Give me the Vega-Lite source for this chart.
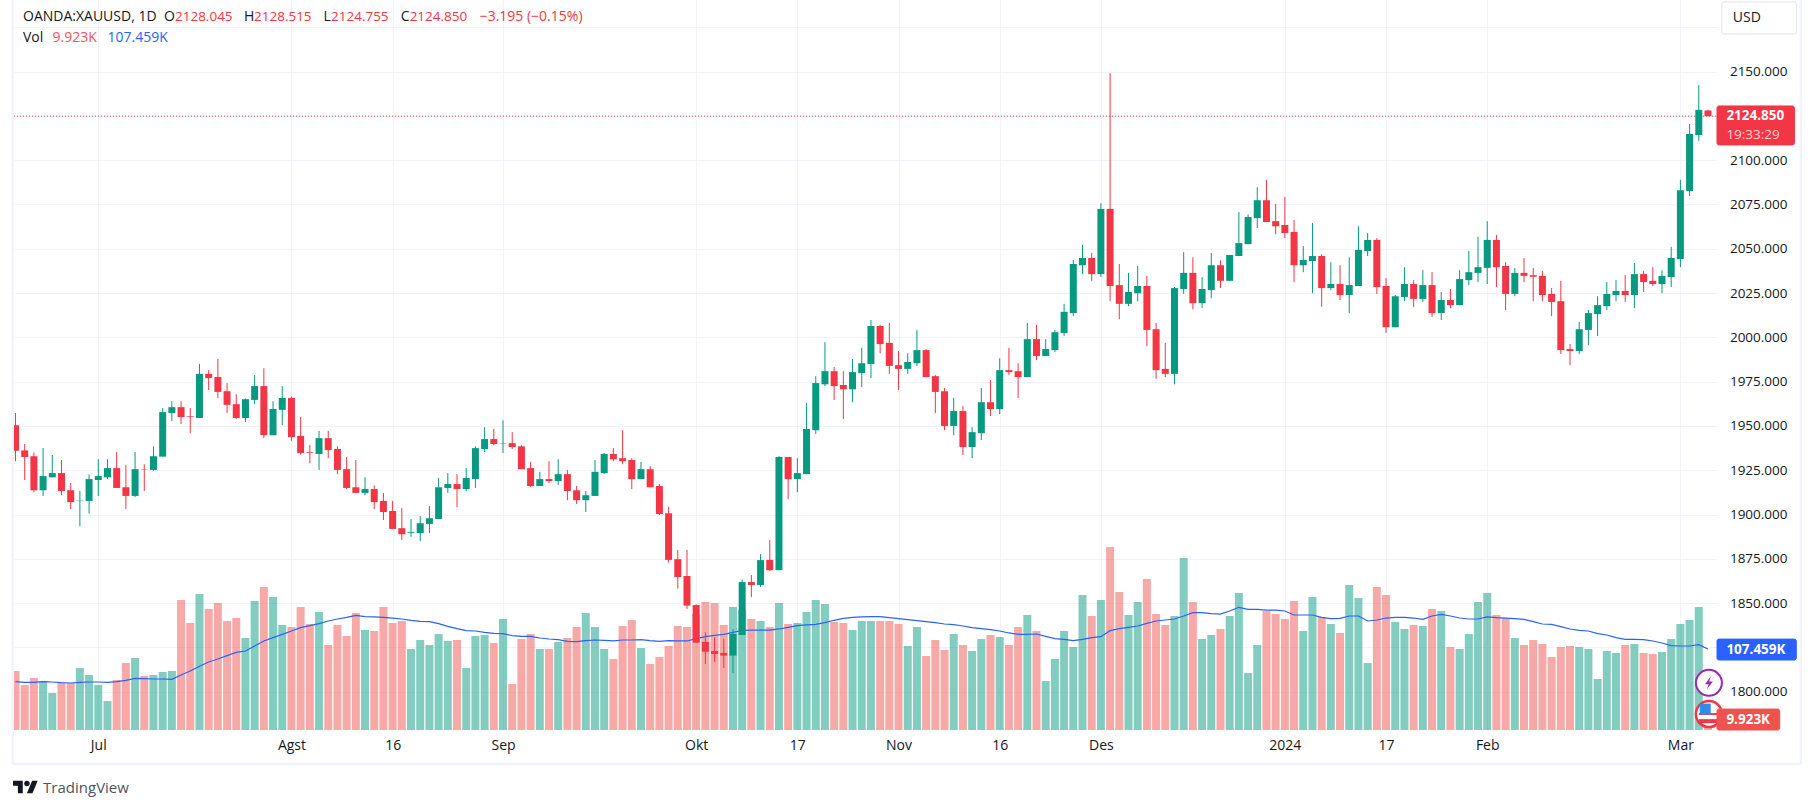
{"$schema":"https://vega.github.io/schema/vega-lite/v6.json","width":1703,"height":730,"autosize":{"type":"none"},"padding":{"left":14,"top":0,"right":98,"bottom":79},"background":"white","config":{"view":{"stroke":null},"text":{"font":"Open Sans"},"axis":{"labelFont":"Open Sans"}},
"data":{"values":[
{"bar":0,"open":1950.4,"high":1957.3,"low":1930.1,"close":1936,"vol":78.2,"ma":64.1},
{"bar":1,"open":1936.2,"high":1939.8,"low":1919.5,"close":1932.5,"vol":59.6,"ma":63.2},
{"bar":2,"open":1932.9,"high":1935.1,"low":1912.6,"close":1913.7,"vol":68.9,"ma":63.2},
{"bar":3,"open":1913.7,"high":1937.5,"low":1910.5,"close":1921.7,"vol":64.9,"ma":64.1},
{"bar":4,"open":1921,"high":1933.6,"low":1921,"close":1923.4,"vol":49,"ma":63.6},
{"bar":5,"open":1923.4,"high":1930.8,"low":1910.9,"close":1913.3,"vol":62.3,"ma":62.7},
{"bar":6,"open":1913.7,"high":1917.8,"low":1903.1,"close":1907,"vol":62.3,"ma":62.3},
{"bar":7,"open":1907.9,"high":1913.3,"low":1893.4,"close":1908.1,"vol":82.2,"ma":63.2},
{"bar":8,"open":1907.7,"high":1922.6,"low":1900.7,"close":1920,"vol":72.9,"ma":63.6},
{"bar":9,"open":1919.5,"high":1931.2,"low":1910.5,"close":1921.7,"vol":59.6,"ma":63.6},
{"bar":10,"open":1921,"high":1931.2,"low":1920,"close":1926.2,"vol":38.4,"ma":63.2},
{"bar":11,"open":1926.2,"high":1935.3,"low":1915,"close":1915,"vol":66.3,"ma":64.1},
{"bar":12,"open":1915.4,"high":1928,"low":1903.1,"close":1910.5,"vol":88.8,"ma":65.8},
{"bar":13,"open":1910.5,"high":1935.3,"low":1909.8,"close":1925.6,"vol":95.4,"ma":68.5},
{"bar":14,"open":1925.6,"high":1928.4,"low":1913.3,"close":1925.4,"vol":71.6,"ma":68},
{"bar":15,"open":1925.2,"high":1938.5,"low":1924.7,"close":1932.9,"vol":72.9,"ma":67.6},
{"bar":16,"open":1932.7,"high":1960.1,"low":1932.7,"close":1957.8,"vol":76.9,"ma":67.6},
{"bar":17,"open":1957.3,"high":1964,"low":1952.8,"close":1960.6,"vol":78.2,"ma":67.2},
{"bar":18,"open":1960.6,"high":1964,"low":1951.1,"close":1955,"vol":172.3,"ma":72.9},
{"bar":19,"open":1955.6,"high":1960.1,"low":1945.9,"close":1955.2,"vol":141.8,"ma":78.2},
{"bar":20,"open":1954.5,"high":1985,"low":1954.5,"close":1979.4,"vol":180.3,"ma":84.4},
{"bar":21,"open":1979.4,"high":1981.5,"low":1970.3,"close":1977,"vol":160.4,"ma":90.1},
{"bar":22,"open":1977.6,"high":1987.8,"low":1965.8,"close":1969.2,"vol":168.3,"ma":94.1},
{"bar":23,"open":1969.6,"high":1974.2,"low":1957.3,"close":1961.9,"vol":144.5,"ma":98.5},
{"bar":24,"open":1962.3,"high":1967.9,"low":1953.9,"close":1954.5,"vol":148.4,"ma":102.9},
{"bar":25,"open":1954.5,"high":1965.5,"low":1952.2,"close":1965.1,"vol":121.9,"ma":104.7},
{"bar":26,"open":1964.7,"high":1978.7,"low":1962.3,"close":1972.5,"vol":171,"ma":111.3},
{"bar":27,"open":1972.5,"high":1982.6,"low":1943.1,"close":1944.8,"vol":189.5,"ma":118},
{"bar":28,"open":1944.8,"high":1964,"low":1944.8,"close":1959.5,"vol":176.3,"ma":122.4},
{"bar":29,"open":1959.1,"high":1972.5,"low":1950.4,"close":1965.8,"vol":139.2,"ma":126.8},
{"bar":30,"open":1965.8,"high":1966.6,"low":1941.6,"close":1943.7,"vol":136.5,"ma":131.2},
{"bar":31,"open":1944.4,"high":1955,"low":1933.8,"close":1934.7,"vol":163,"ma":135.6},
{"bar":32,"open":1935.3,"high":1939.2,"low":1929,"close":1934.9,"vol":140.5,"ma":138.3},
{"bar":33,"open":1934.2,"high":1947.2,"low":1925.2,"close":1943.1,"vol":156.4,"ma":140.9},
{"bar":34,"open":1943.1,"high":1947.2,"low":1931.8,"close":1936.4,"vol":112.7,"ma":144.5},
{"bar":35,"open":1937,"high":1938.5,"low":1922.8,"close":1925.2,"vol":139.2,"ma":147.1},
{"bar":36,"open":1925.6,"high":1932.5,"low":1914.4,"close":1915,"vol":124.6,"ma":149.3},
{"bar":37,"open":1915.4,"high":1930.8,"low":1912.2,"close":1912.2,"vol":155.1,"ma":152},
{"bar":38,"open":1912.2,"high":1921,"low":1910.9,"close":1914.4,"vol":132.5,"ma":150.2},
{"bar":39,"open":1914.4,"high":1916.5,"low":1903.1,"close":1907,"vol":131.2,"ma":149.8},
{"bar":40,"open":1907.7,"high":1912.2,"low":1896.9,"close":1901.4,"vol":163,"ma":149.3},
{"bar":41,"open":1902,"high":1907.7,"low":1891.9,"close":1891.9,"vol":141.8,"ma":148.4},
{"bar":42,"open":1892.3,"high":1903.6,"low":1885.6,"close":1888.9,"vol":144.5,"ma":147.1},
{"bar":43,"open":1889.7,"high":1897.5,"low":1887.4,"close":1890.2,"vol":107.4,"ma":145.4},
{"bar":44,"open":1889.5,"high":1899.2,"low":1885,"close":1895.1,"vol":119.3,"ma":144},
{"bar":45,"open":1894.7,"high":1904.8,"low":1889.5,"close":1897.9,"vol":112.7,"ma":143.6},
{"bar":46,"open":1897.5,"high":1920.6,"low":1897.5,"close":1915.4,"vol":127.2,"ma":140.9},
{"bar":47,"open":1915,"high":1923.4,"low":1912.2,"close":1917.2,"vol":118,"ma":137.4},
{"bar":48,"open":1917.2,"high":1922.8,"low":1904.2,"close":1914.4,"vol":119.3,"ma":134.3},
{"bar":49,"open":1914.4,"high":1926.2,"low":1913.3,"close":1920.6,"vol":82.2,"ma":131.7},
{"bar":50,"open":1920,"high":1938.5,"low":1915,"close":1937.5,"vol":124.6,"ma":131.2},
{"bar":51,"open":1937,"high":1949.3,"low":1935.3,"close":1942.6,"vol":125.9,"ma":129.4},
{"bar":52,"open":1942.6,"high":1948.3,"low":1939.2,"close":1939.8,"vol":115.3,"ma":128.1},
{"bar":53,"open":1940.1,"high":1953.2,"low":1934.7,"close":1940.3,"vol":147.1,"ma":127.7},
{"bar":54,"open":1940.3,"high":1946.5,"low":1937,"close":1938.1,"vol":61,"ma":125},
{"bar":55,"open":1938.5,"high":1939.2,"low":1925.6,"close":1925.6,"vol":120.6,"ma":124.1},
{"bar":56,"open":1926.2,"high":1929.7,"low":1915.4,"close":1916.1,"vol":127.2,"ma":124.1},
{"bar":57,"open":1916.1,"high":1924.1,"low":1916.1,"close":1920,"vol":107.4,"ma":121.9},
{"bar":58,"open":1920,"high":1930.1,"low":1917.8,"close":1918.9,"vol":107.4,"ma":120.6},
{"bar":59,"open":1918.9,"high":1931.2,"low":1916.7,"close":1922.8,"vol":116.6,"ma":119.7},
{"bar":60,"open":1922.8,"high":1925.2,"low":1908.1,"close":1913.3,"vol":121.9,"ma":117.5},
{"bar":61,"open":1913.7,"high":1916.1,"low":1905.9,"close":1908.1,"vol":136.5,"ma":117.1},
{"bar":62,"open":1908.1,"high":1913.3,"low":1901.4,"close":1910.9,"vol":155.1,"ma":118.4},
{"bar":63,"open":1910.5,"high":1930.8,"low":1910.5,"close":1924.1,"vol":136.5,"ma":119.3},
{"bar":64,"open":1923.4,"high":1934.7,"low":1922.8,"close":1934.2,"vol":107.4,"ma":118.8},
{"bar":65,"open":1934.2,"high":1937.5,"low":1930.1,"close":1931.2,"vol":94.1,"ma":118},
{"bar":66,"open":1931.8,"high":1947.6,"low":1928.4,"close":1930.1,"vol":137.8,"ma":119.3},
{"bar":67,"open":1930.8,"high":1931.8,"low":1914.4,"close":1920,"vol":145.8,"ma":119.3},
{"bar":68,"open":1920,"high":1929.7,"low":1920,"close":1925.6,"vol":108.7,"ma":119.7},
{"bar":69,"open":1925.6,"high":1927.3,"low":1915.4,"close":1915.4,"vol":87.5,"ma":118.4},
{"bar":70,"open":1916.1,"high":1917.2,"low":1899.7,"close":1900.3,"vol":96.8,"ma":117.5},
{"bar":71,"open":1900.7,"high":1904.2,"low":1872.9,"close":1874.4,"vol":111.3,"ma":118.4},
{"bar":72,"open":1874.8,"high":1880,"low":1858.2,"close":1864.7,"vol":137.8,"ma":118},
{"bar":73,"open":1865.3,"high":1880,"low":1846.7,"close":1848.6,"vol":136.5,"ma":118},
{"bar":74,"open":1848.9,"high":1849.3,"low":1827.7,"close":1827.7,"vol":153.7,"ma":121.1},
{"bar":75,"open":1828.1,"high":1833.5,"low":1815.7,"close":1822.6,"vol":169.7,"ma":123.7},
{"bar":76,"open":1823,"high":1830.7,"low":1816.8,"close":1821.3,"vol":168.3,"ma":125.5},
{"bar":77,"open":1821.9,"high":1829.8,"low":1813.4,"close":1820.4,"vol":139.2,"ma":126.8},
{"bar":78,"open":1820.4,"high":1835.2,"low":1810.6,"close":1832.6,"vol":163,"ma":129.4},
{"bar":79,"open":1832,"high":1863.4,"low":1832,"close":1861.9,"vol":159,"ma":132.1},
{"bar":80,"open":1861.9,"high":1865.9,"low":1853.4,"close":1860.2,"vol":147.1,"ma":132.5},
{"bar":81,"open":1860.2,"high":1877.7,"low":1859.1,"close":1874.3,"vol":144.5,"ma":132.5},
{"bar":82,"open":1874.4,"high":1885.6,"low":1868.1,"close":1868.6,"vol":136.5,"ma":132.5},
{"bar":83,"open":1868.6,"high":1932.9,"low":1868.6,"close":1932.5,"vol":168.3,"ma":133.9},
{"bar":84,"open":1932.5,"high":1932.5,"low":1908.7,"close":1920,"vol":140.5,"ma":136.1},
{"bar":85,"open":1920,"high":1931.8,"low":1912.6,"close":1923.4,"vol":141.8,"ma":138.3},
{"bar":86,"open":1922.8,"high":1963,"low":1922.8,"close":1948.3,"vol":156.4,"ma":139.2},
{"bar":87,"open":1947.6,"high":1978.1,"low":1945.5,"close":1974.2,"vol":172.3,"ma":140},
{"bar":88,"open":1973.5,"high":1997.3,"low":1972.5,"close":1980.9,"vol":167,"ma":142.3},
{"bar":89,"open":1980.9,"high":1983.3,"low":1964.7,"close":1972.5,"vol":143.1,"ma":145.4},
{"bar":90,"open":1973.1,"high":1980.9,"low":1953.9,"close":1970.7,"vol":141.8,"ma":148},
{"bar":91,"open":1970.7,"high":1987.8,"low":1963.4,"close":1980.4,"vol":132.5,"ma":149.3},
{"bar":92,"open":1979.8,"high":1994.1,"low":1972,"close":1985.4,"vol":144.5,"ma":149.8},
{"bar":93,"open":1985,"high":2009.8,"low":1977,"close":2006.4,"vol":144.5,"ma":150.2},
{"bar":94,"open":2006.4,"high":2007,"low":1991,"close":1996.2,"vol":144.5,"ma":150.2},
{"bar":95,"open":1996.9,"high":2008.1,"low":1979.4,"close":1983.9,"vol":144.5,"ma":148.9},
{"bar":96,"open":1984.3,"high":1992.3,"low":1970.3,"close":1982.2,"vol":140.5,"ma":147.6},
{"bar":97,"open":1982.2,"high":1991,"low":1979.4,"close":1986.1,"vol":111.3,"ma":146.2},
{"bar":98,"open":1985.4,"high":2004.2,"low":1983.9,"close":1992.8,"vol":136.5,"ma":144.9},
{"bar":99,"open":1992.8,"high":1993.4,"low":1977.6,"close":1977.6,"vol":98.1,"ma":143.6},
{"bar":100,"open":1978.1,"high":1978.7,"low":1957.3,"close":1969.2,"vol":119.3,"ma":142.3},
{"bar":101,"open":1969.6,"high":1971.4,"low":1947.6,"close":1950,"vol":106,"ma":140.5},
{"bar":102,"open":1950,"high":1965.8,"low":1944.8,"close":1958.4,"vol":127.2,"ma":139.6},
{"bar":103,"open":1958.4,"high":1961.2,"low":1933.6,"close":1938.1,"vol":112.7,"ma":137.8},
{"bar":104,"open":1938.1,"high":1949.3,"low":1931.8,"close":1946.5,"vol":104.7,"ma":135.6},
{"bar":105,"open":1945.9,"high":1971.4,"low":1942,"close":1963.4,"vol":120.6,"ma":134.3},
{"bar":106,"open":1963.4,"high":1975.9,"low":1955.6,"close":1959.5,"vol":125.9,"ma":133},
{"bar":107,"open":1959.5,"high":1988.2,"low":1956.7,"close":1981.5,"vol":123.3,"ma":131.2},
{"bar":108,"open":1981.5,"high":1994.1,"low":1978.7,"close":1980.4,"vol":112.7,"ma":128.6},
{"bar":109,"open":1980.9,"high":1985.4,"low":1965.8,"close":1977.6,"vol":136.5,"ma":126.8},
{"bar":110,"open":1977.6,"high":2008.1,"low":1977.6,"close":1999,"vol":152.4,"ma":126.8},
{"bar":111,"open":1999,"high":2007,"low":1987.1,"close":1989.5,"vol":131.2,"ma":127.2},
{"bar":112,"open":1989.5,"high":1999,"low":1989.5,"close":1993.4,"vol":64.9,"ma":124.1},
{"bar":113,"open":1992.8,"high":2004.2,"low":1991.7,"close":2002.9,"vol":94.1,"ma":121.1},
{"bar":114,"open":2002.5,"high":2018.9,"low":2000.8,"close":2014.4,"vol":131.2,"ma":120.2},
{"bar":115,"open":2013.7,"high":2043.7,"low":2012,"close":2041.4,"vol":110,"ma":118.4},
{"bar":116,"open":2040.7,"high":2052.2,"low":2035.7,"close":2044.8,"vol":178.9,"ma":120.2},
{"bar":117,"open":2044.8,"high":2047.6,"low":2031.9,"close":2035.7,"vol":151.1,"ma":122.4},
{"bar":118,"open":2035.7,"high":2075.7,"low":2034,"close":2072.5,"vol":172.3,"ma":123.7},
{"bar":119,"open":2072.5,"high":2149.1,"low":2020.4,"close":2029,"vol":242.5,"ma":131.7},
{"bar":120,"open":2029.5,"high":2041.4,"low":2010.3,"close":2018.9,"vol":182.9,"ma":134.3},
{"bar":121,"open":2018.9,"high":2036.4,"low":2017.6,"close":2025.6,"vol":152.4,"ma":136.1},
{"bar":122,"open":2024.9,"high":2040.3,"low":2020.4,"close":2029,"vol":169.7,"ma":137.8},
{"bar":123,"open":2029,"high":2034.7,"low":1995.1,"close":2004.2,"vol":200.1,"ma":141.4},
{"bar":124,"open":2004.6,"high":2008.1,"low":1976.6,"close":1981.5,"vol":153.7,"ma":144.5},
{"bar":125,"open":1982.2,"high":1996.9,"low":1977.6,"close":1979.4,"vol":139.2,"ma":145.8},
{"bar":126,"open":1979.4,"high":2028.4,"low":1973.5,"close":2027.8,"vol":151.1,"ma":147.1},
{"bar":127,"open":2027.3,"high":2048.1,"low":2024.5,"close":2036.4,"vol":228,"ma":151.1},
{"bar":128,"open":2036.4,"high":2045.2,"low":2015.9,"close":2019.3,"vol":169.7,"ma":155.5},
{"bar":129,"open":2019.3,"high":2034,"low":2016.5,"close":2027.3,"vol":120.6,"ma":155.5},
{"bar":130,"open":2026.7,"high":2047.6,"low":2022.1,"close":2040.7,"vol":125.9,"ma":154.2},
{"bar":131,"open":2040.7,"high":2043.5,"low":2027.8,"close":2031.9,"vol":133.9,"ma":153.7},
{"bar":132,"open":2031.9,"high":2046.5,"low":2031.9,"close":2046.5,"vol":151.1,"ma":157.7},
{"bar":133,"open":2045.9,"high":2070.7,"low":2045.9,"close":2053.2,"vol":181.6,"ma":162.6},
{"bar":134,"open":2052.6,"high":2069.4,"low":2052.6,"close":2067.9,"vol":75.5,"ma":159.9},
{"bar":135,"open":2067.3,"high":2084.8,"low":2061.7,"close":2077.4,"vol":112.7,"ma":159.9},
{"bar":136,"open":2077.4,"high":2088.9,"low":2065.1,"close":2065.1,"vol":157.7,"ma":159},
{"bar":137,"open":2065.6,"high":2075.3,"low":2058.2,"close":2062.7,"vol":153.7,"ma":159},
{"bar":138,"open":2063.4,"high":2079.2,"low":2056,"close":2058.9,"vol":147.1,"ma":157.7},
{"bar":139,"open":2059.5,"high":2066.2,"low":2031.2,"close":2040.7,"vol":171,"ma":152.4},
{"bar":140,"open":2040.7,"high":2051.5,"low":2036.8,"close":2043.7,"vol":131.2,"ma":152.4},
{"bar":141,"open":2043.1,"high":2064.5,"low":2024.9,"close":2045.9,"vol":176.3,"ma":152.4},
{"bar":142,"open":2045.9,"high":2047,"low":2017.2,"close":2027.8,"vol":149.8,"ma":149.3},
{"bar":143,"open":2027.8,"high":2042.4,"low":2026.7,"close":2030.1,"vol":140.5,"ma":147.6},
{"bar":144,"open":2030.1,"high":2040.7,"low":2021.1,"close":2023.9,"vol":128.6,"ma":148},
{"bar":145,"open":2023.9,"high":2045.2,"low":2013.7,"close":2029.5,"vol":192.2,"ma":151.1},
{"bar":146,"open":2029,"high":2062.7,"low":2029,"close":2049.4,"vol":175,"ma":151.1},
{"bar":147,"open":2048.7,"high":2058.9,"low":2045.9,"close":2055,"vol":88.8,"ma":144.5},
{"bar":148,"open":2055,"high":2056,"low":2024.5,"close":2028.4,"vol":189.5,"ma":145.8},
{"bar":149,"open":2029,"high":2033.4,"low":2002.5,"close":2005.7,"vol":178.9,"ma":148.4},
{"bar":150,"open":2005.7,"high":2023.9,"low":2005.7,"close":2023.2,"vol":143.1,"ma":149.3},
{"bar":151,"open":2022.8,"high":2039.6,"low":2020.4,"close":2030.1,"vol":133.9,"ma":149.3},
{"bar":152,"open":2030.1,"high":2032.3,"low":2017.2,"close":2021.7,"vol":139.2,"ma":148.4},
{"bar":153,"open":2021.7,"high":2037.9,"low":2020,"close":2029.5,"vol":137.8,"ma":146.7},
{"bar":154,"open":2029.5,"high":2036.8,"low":2011.6,"close":2013.7,"vol":160.4,"ma":151.1},
{"bar":155,"open":2013.7,"high":2025.6,"low":2009.8,"close":2021.1,"vol":157.7,"ma":153.3},
{"bar":156,"open":2021.1,"high":2027.3,"low":2016.5,"close":2018.2,"vol":110,"ma":151.1},
{"bar":157,"open":2018.2,"high":2037.9,"low":2018.2,"close":2032.9,"vol":107.4,"ma":148.4},
{"bar":158,"open":2032.3,"high":2048.7,"low":2029.5,"close":2036.8,"vol":127.2,"ma":147.1},
{"bar":159,"open":2036.4,"high":2056.7,"low":2031.2,"close":2039.6,"vol":169.7,"ma":147.1},
{"bar":160,"open":2039.2,"high":2065.6,"low":2030.1,"close":2055,"vol":181.6,"ma":149.8},
{"bar":161,"open":2055,"high":2057.8,"low":2028.4,"close":2039.6,"vol":152.4,"ma":148.9},
{"bar":162,"open":2040.3,"high":2042.4,"low":2015.4,"close":2024.5,"vol":148.4,"ma":148.4},
{"bar":163,"open":2024.5,"high":2039.2,"low":2023.2,"close":2036.4,"vol":121.9,"ma":147.6},
{"bar":164,"open":2036.4,"high":2044.8,"low":2031.2,"close":2034.7,"vol":112.7,"ma":146.7},
{"bar":165,"open":2035.1,"high":2039.2,"low":2020.4,"close":2034.2,"vol":119.3,"ma":143.6},
{"bar":166,"open":2034.7,"high":2037.5,"low":2020.4,"close":2023.9,"vol":114,"ma":140.5},
{"bar":167,"open":2024.5,"high":2027.8,"low":2012,"close":2020,"vol":96.8,"ma":140},
{"bar":168,"open":2020.4,"high":2031.9,"low":1990.6,"close":1992.8,"vol":110,"ma":137},
{"bar":169,"open":1993.4,"high":1996.2,"low":1984.3,"close":1992.3,"vol":111.3,"ma":133.9},
{"bar":170,"open":1992.3,"high":2008.7,"low":1990.6,"close":2004.6,"vol":110,"ma":132.1},
{"bar":171,"open":2004.2,"high":2015.4,"low":1995.6,"close":2013.7,"vol":107.4,"ma":131.2},
{"bar":172,"open":2013.1,"high":2023.2,"low":2000.8,"close":2018.2,"vol":67.6,"ma":127.7},
{"bar":173,"open":2017.6,"high":2031.2,"low":2015.4,"close":2024.5,"vol":104.7,"ma":125.9},
{"bar":174,"open":2023.9,"high":2032.3,"low":2020.4,"close":2026.2,"vol":102.1,"ma":122.4},
{"bar":175,"open":2026.2,"high":2035.1,"low":2020,"close":2023.9,"vol":112.7,"ma":120.2},
{"bar":176,"open":2023.9,"high":2042,"low":2016.5,"close":2035.7,"vol":114,"ma":120.2},
{"bar":177,"open":2035.7,"high":2037.5,"low":2025.6,"close":2031.2,"vol":102.1,"ma":119.7},
{"bar":178,"open":2031.9,"high":2039.6,"low":2029,"close":2030.1,"vol":100.7,"ma":118},
{"bar":179,"open":2030.1,"high":2037.9,"low":2024.9,"close":2034.7,"vol":103.4,"ma":115.3},
{"bar":180,"open":2034,"high":2051.1,"low":2028.4,"close":2044.8,"vol":120.6,"ma":111.8},
{"bar":181,"open":2044.2,"high":2088.9,"low":2039.6,"close":2083,"vol":140.5,"ma":111.3},
{"bar":182,"open":2082.6,"high":2120.4,"low":2079.8,"close":2114.8,"vol":145.8,"ma":111.3},
{"bar":183,"open":2114.2,"high":2142.4,"low":2110.9,"close":2128.4,"vol":163,"ma":113.1},
{"bar":184,"open":2128.045,"high":2128.515,"low":2124.755,"close":2124.85,"vol":9.923,"ma":107.459}
]},
"encoding":{"x":{"field":"bar","type":"quantitative","title":null,"scale":{"domain":[-0.163,184.98],"nice":false,"zero":false,"padding":0},"axis":{"values":[9,30,41,53,74,85,96,107,118,138,149,160,181],"labelExpr":"{'9':'Jul','30':'Agst','41':'16','53':'Sep','74':'Okt','85':'17','96':'Nov','107':'16','118':'Des','138':'2024','149':'17','160':'Feb','181':'Mar'}[datum.value]","grid":true,"gridColor":"#f0f3fa","domain":false,"ticks":false,"labelFontSize":14,"labelColor":"#131722","labelPadding":8,"labelFlush":false,"labelOverlap":false,"labelFontWeight":{"condition":{"test":"datum.label == '2024'","value":700},"value":400}}}},
"layer":[
{"layer":[
{"mark":{"type":"bar","orient":"vertical","size":8,"opacity":0.5,"clip":true},"encoding":{"y":{"field":"vol","type":"quantitative","stack":null,"title":null,"axis":null,"scale":{"domain":[0,967.5],"nice":false,"zero":false}},"y2":{"datum":0},"color":{"condition":{"test":"datum.close >= datum.open","value":"#089981"},"value":"#EF5350"}}},
{"mark":{"type":"line","color":"#2962FF","strokeWidth":1.2,"clip":true},"encoding":{"y":{"field":"ma","type":"quantitative","title":null,"axis":null,"scale":{"domain":[0,967.5],"nice":false,"zero":false}}}}
]},
{"resolve":{"axis":{"y":"independent"}},"layer":[
{"data":{"values":[{"bar":-0.163,"bar2":184.98,"price":2124.85}]},"mark":{"type":"rule","color":"#F23645","strokeDash":[1,2],"strokeWidth":1},"encoding":{"x2":{"field":"bar2"},"y":{"field":"price","type":"quantitative","title":null,"axis":{"orient":"right","values":[1800,1825,1850,1875,1900,1925,1950,1975,2000,2025,2050,2075,2100,2125,2150,2175],"labelExpr":"datum.value == 2175 || datum.value == 2125 || datum.value == 1825 ? '' : format(datum.value, '.3f')","grid":true,"gridColor":"#f0f3fa","domain":false,"ticks":false,"labelAlign":"right","labelPadding":70,"labelFontSize":13.5,"labelColor":"#131722","labelOverlap":false,"labelFlush":false,"zindex":0},"scale":{"domain":[1778.4,2190.4],"nice":false,"zero":false}}}},
{"mark":{"type":"rule","strokeWidth":1,"clip":true},"encoding":{"y":{"field":"low","type":"quantitative","title":null,"axis":null,"scale":{"domain":[1778.4,2190.4],"nice":false,"zero":false}},"y2":{"field":"high"},"color":{"condition":{"test":"datum.close >= datum.open","value":"#089981"},"value":"#F23645"}}},
{"mark":{"type":"bar","orient":"vertical","size":7,"clip":true},"encoding":{"y":{"field":"open","type":"quantitative","stack":null,"title":null,"axis":null,"scale":{"domain":[1778.4,2190.4],"nice":false,"zero":false}},"y2":{"field":"close"},"color":{"condition":{"test":"datum.close >= datum.open","value":"#089981"},"value":"#F23645"}}},
{"data":{"values":[{"bar":-0.3,"bar2":-0.3,"price":2190.4,"price2":1759.2},{"bar":194.1,"bar2":194.1,"price":2190.4,"price2":1759.2},{"bar":-0.3,"bar2":194.1,"price":1759.2,"price2":1759.2}]},"mark":{"type":"rule","color":"#f0f3fa","strokeWidth":2.5},"encoding":{"x2":{"field":"bar2"},"y":{"field":"price","type":"quantitative","title":null,"axis":null,"scale":{"domain":[1778.4,2190.4],"nice":false,"zero":false}},"y2":{"field":"price2"}}},
{"data":{"values":[{"bar":184.1,"price":1805}]},"mark":{"type":"point","shape":"circle","size":676,"filled":true,"fill":"white","stroke":"#9C27B0","strokeWidth":2,"opacity":1},"encoding":{"y":{"field":"price","type":"quantitative","title":null,"axis":null,"scale":{"domain":[1778.4,2190.4],"nice":false,"zero":false}}}},
{"data":{"values":[{"bar":184.1,"price":1805}]},"mark":{"type":"point","shape":"M0.3 -1L-0.6 0.2H-0.04L-0.3 1L0.6 -0.2H0.04Z","size":169,"filled":true,"color":"#9C27B0","opacity":1},"encoding":{"y":{"field":"price","type":"quantitative","title":null,"axis":null,"scale":{"domain":[1778.4,2190.4],"nice":false,"zero":false}}}},
{"data":{"values":[{"bar":184.1,"price":1787.4}]},"mark":{"type":"point","shape":"circle","size":676,"filled":true,"fill":"white","stroke":"#F23645","strokeWidth":2.5,"opacity":1},"encoding":{"y":{"field":"price","type":"quantitative","title":null,"axis":null,"scale":{"domain":[1778.4,2190.4],"nice":false,"zero":false}}}},
{"data":{"values":[{"bar":184.1,"price":1787.4}]},"mark":{"type":"point","shape":"M-1 -0.1H1V0.1H-1Z","size":400,"filled":true,"color":"#F23645","opacity":1},"encoding":{"y":{"field":"price","type":"quantitative","title":null,"axis":null,"scale":{"domain":[1778.4,2190.4],"nice":false,"zero":false}}}},
{"data":{"values":[{"bar":183.7,"price":1790.2}]},"mark":{"type":"point","shape":"square","size":121,"filled":true,"color":"#2E8BE6","opacity":1},"encoding":{"y":{"field":"price","type":"quantitative","title":null,"axis":null,"scale":{"domain":[1778.4,2190.4],"nice":false,"zero":false}}}},
{"data":{"values":[{"bar":184.1,"price":1783.4}]},"mark":{"type":"point","shape":"M-1 -0.2H1V0.2H-1Z","size":400,"filled":true,"color":"#F23645","opacity":1},"encoding":{"y":{"field":"price","type":"quantitative","title":null,"axis":null,"scale":{"domain":[1778.4,2190.4],"nice":false,"zero":false}}}},
{"data":{"values":[{"bar":185.5,"bar2":193.6,"price":2189.3,"price2":2171.2,"fill":"white","line":"#e0e3eb"},{"bar":184.98,"bar2":193.4,"price":2130.6,"price2":2108.6,"fill":"#F23645","line":"#F23645"},{"bar":184.98,"bar2":193.6,"price":1829.7,"price2":1817.9,"fill":"#2962FF","line":"#2962FF"},{"bar":184.98,"bar2":191.8,"price":1790.2,"price2":1778.4,"fill":"#EF5350","line":"#EF5350"}]},"mark":{"type":"bar","orient":"vertical","cornerRadius":2},"encoding":{"x2":{"field":"bar2"},"y":{"field":"price","type":"quantitative","stack":null,"title":null,"axis":null,"scale":{"domain":[1778.4,2190.4],"nice":false,"zero":false}},"y2":{"field":"price2"},"fill":{"field":"fill","type":"nominal","scale":null},"stroke":{"field":"line","type":"nominal","scale":null}}},
{"data":{"values":[
{"bar":0.815,"price":2180.9,"t":"OANDA:XAUUSD, 1D","c":"#131722","s":14},
{"bar":16.15,"price":2180.9,"t":"O","c":"#131722","s":14},
{"bar":17.34,"price":2180.9,"t":"2128.045","c":"#F23645","s":13.5},
{"bar":24.84,"price":2180.9,"t":"H","c":"#131722","s":14},
{"bar":25.93,"price":2180.9,"t":"2128.515","c":"#F23645","s":13.5},
{"bar":33.49,"price":2180.9,"t":"L","c":"#131722","s":14},
{"bar":34.3,"price":2180.9,"t":"2124.755","c":"#F23645","s":13.5},
{"bar":41.87,"price":2180.9,"t":"C","c":"#131722","s":14},
{"bar":42.85,"price":2180.9,"t":"2124.850","c":"#F23645","s":13.5},
{"bar":50.46,"price":2180.9,"t":"−3.195 (−0.15%)","c":"#F23645","s":14},
{"bar":0.815,"price":2169,"t":"Vol","c":"#131722","s":14},
{"bar":4.03,"price":2169,"t":"9.923K","c":"#F7525F","s":14},
{"bar":10,"price":2169,"t":"107.459K","c":"#2962FF","s":14},
{"bar":186.7,"price":2180.5,"t":"USD","c":"#131722","s":14},
{"bar":186,"price":2114.4,"t":"19:33:29","c":"#fbd0d4","s":13.5},
{"bar":3,"price":1745.5,"t":"TradingView","c":"#50535e","s":15}
]},"mark":{"type":"text","align":"left","baseline":"middle"},"encoding":{"y":{"field":"price","type":"quantitative","title":null,"axis":null,"scale":{"domain":[1778.4,2190.4],"nice":false,"zero":false}},"text":{"field":"t"},"color":{"field":"c","type":"nominal","scale":null},"size":{"field":"s","type":"quantitative","scale":null}}},
{"data":{"values":[
{"bar":186,"price":2124.8,"t":"2124.850"},
{"bar":186,"price":1823.8,"t":"107.459K"},
{"bar":186,"price":1784,"t":"9.923K"}
]},"mark":{"type":"text","align":"left","baseline":"middle","fontWeight":700,"fontSize":13.5,"color":"white"},"encoding":{"y":{"field":"price","type":"quantitative","title":null,"axis":null,"scale":{"domain":[1778.4,2190.4],"nice":false,"zero":false}},"text":{"field":"t"}}},
{"data":{"values":[{"bar":1.09,"price":1746.2}]},"mark":{"type":"point","shape":"M-0.111 0.25H-0.306V-0.056H-0.5V-0.25H-0.111ZM0.278 0.25H0.056L0.264 -0.25H0.486ZM-0.055 -0.139a0.111 0.111 0 1 0 0.222 0a0.111 0.111 0 1 0 -0.222 0Z","size":2500,"filled":true,"color":"#131722","opacity":1},"encoding":{"y":{"field":"price","type":"quantitative","title":null,"axis":null,"scale":{"domain":[1778.4,2190.4],"nice":false,"zero":false}}}}
]}
],
"resolve":{"scale":{"y":"independent"}}}
